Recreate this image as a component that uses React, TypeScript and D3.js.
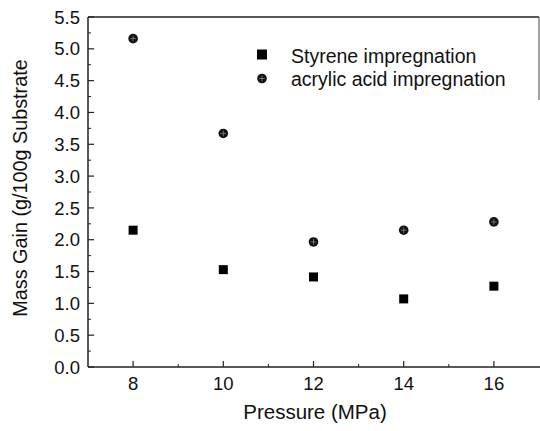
import React from "react";
import * as d3 from "d3";

const pressures = [8, 10, 12, 14, 16];
const styreneGain = [2.15, 1.53, 1.415, 1.07, 1.27];
const acrylicGain = [5.16, 3.67, 1.965, 2.15, 2.28];
const xTicks = [8, 10, 12, 14, 16];
const xMinorTicks = [9, 11, 13, 15];
const yTicks = [0, 0.5, 1, 1.5, 2, 2.5, 3, 3.5, 4, 4.5, 5, 5.5];
const seriesNames = ["Styrene impregnation", "acrylic acid impregnation"];

const W = 540;
const H = 431;
const M = { left: 88, right: 539, top: 17, bottom: 367 };
const FONT = "'Liberation Sans', Arial, Helvetica, sans-serif";

function Circle({ cx, cy, r }: { cx: number; cy: number; r: number }) {
  return (
    <g>
      <circle cx={cx} cy={cy} r={r} fill="#111" />
      <line x1={cx - r * 0.6} x2={cx + r * 0.6} y1={cy} y2={cy} stroke="#888" strokeWidth={0.8} />
      <line x1={cx} x2={cx} y1={cy - r * 0.6} y2={cy + r * 0.6} stroke="#888" strokeWidth={0.8} />
    </g>
  );
}

export default function App() {
  const x = d3.scaleLinear().domain([7, 17]).range([M.left, M.right]);
  const y = d3.scaleLinear().domain([0, 5.5]).range([M.bottom, M.top]);
  const yMinor = d3.range(0.25, 5.5, 0.5);
  const sq = 9;
  return (
    <svg width={W} height={H} style={{ position: "absolute", left: 0, top: 0, background: "#fff" }}>
      <rect x={0} y={0} width={W} height={H} fill="#fff" />
      {/* frame */}
      <line x1={M.left} x2={M.left} y1={M.top} y2={M.bottom} stroke="#222" strokeWidth={1.5} />
      <line x1={M.left} x2={W} y1={M.bottom} y2={M.bottom} stroke="#222" strokeWidth={1.5} />
      <line x1={M.left} x2={M.right} y1={M.top} y2={M.top} stroke="#222" strokeWidth={1.3} />
      <line x1={M.right} x2={M.right} y1={M.top} y2={100} stroke="#444" strokeWidth={1} />
      {/* y ticks */}
      {yTicks.map((t) => (
        <g key={"y" + t}>
          <line x1={M.left} x2={M.left + 6} y1={y(t)} y2={y(t)} stroke="#222" strokeWidth={1.2} />
          <text x={M.left - 8} y={y(t)} dy="0.36em" textAnchor="end" fontFamily={FONT} fontSize={18.5} fill="#111">
            {d3.format(".1f")(t)}
          </text>
        </g>
      ))}
      {yMinor.map((t) => (
        <line key={"ym" + t} x1={M.left} x2={M.left + 3} y1={y(t)} y2={y(t)} stroke="#222" strokeWidth={1} />
      ))}
      {/* x ticks */}
      {xTicks.map((t) => (
        <g key={"x" + t}>
          <line x1={x(t)} x2={x(t)} y1={M.bottom} y2={M.bottom - 6} stroke="#222" strokeWidth={1.2} />
          <text x={x(t)} y={M.bottom + 23} textAnchor="middle" fontFamily={FONT} fontSize={18.5} fill="#111">
            {t}
          </text>
        </g>
      ))}
      {xMinorTicks.map((t) => (
        <line key={"xm" + t} x1={x(t)} x2={x(t)} y1={M.bottom} y2={M.bottom - 3} stroke="#222" strokeWidth={1} />
      ))}
      {/* titles */}
      <text x={315} y={419} textAnchor="middle" fontFamily={FONT} fontSize={20.5} fill="#111">
        Pressure (MPa)
      </text>
      <text
        transform={`translate(27, 188) rotate(-90)`}
        textAnchor="middle"
        fontFamily={FONT}
        fontSize={19.8}
        fill="#111"
      >
        Mass Gain (g/100g Substrate
      </text>
      {/* data */}
      {pressures.map((p, i) => (
        <rect key={"s" + p} x={x(p) - sq / 2} y={y(styreneGain[i]) - sq / 2} width={sq} height={sq} fill="#000" />
      ))}
      {pressures.map((p, i) => (
        <Circle key={"a" + p} cx={x(p)} cy={y(acrylicGain[i])} r={4.8} />
      ))}
      {/* legend */}
      <rect x={257} y={49.5} width={10} height={10} fill="#000" />
      <text x={291} y={62.5} fontFamily={FONT} fontSize={19.5} fill="#111">
        {seriesNames[0]}
      </text>
      <Circle cx={262} cy={78.5} r={4.8} />
      <text x={291} y={85.5} fontFamily={FONT} fontSize={19.5} fill="#111">
        {seriesNames[1]}
      </text>
    </svg>
  );
}
